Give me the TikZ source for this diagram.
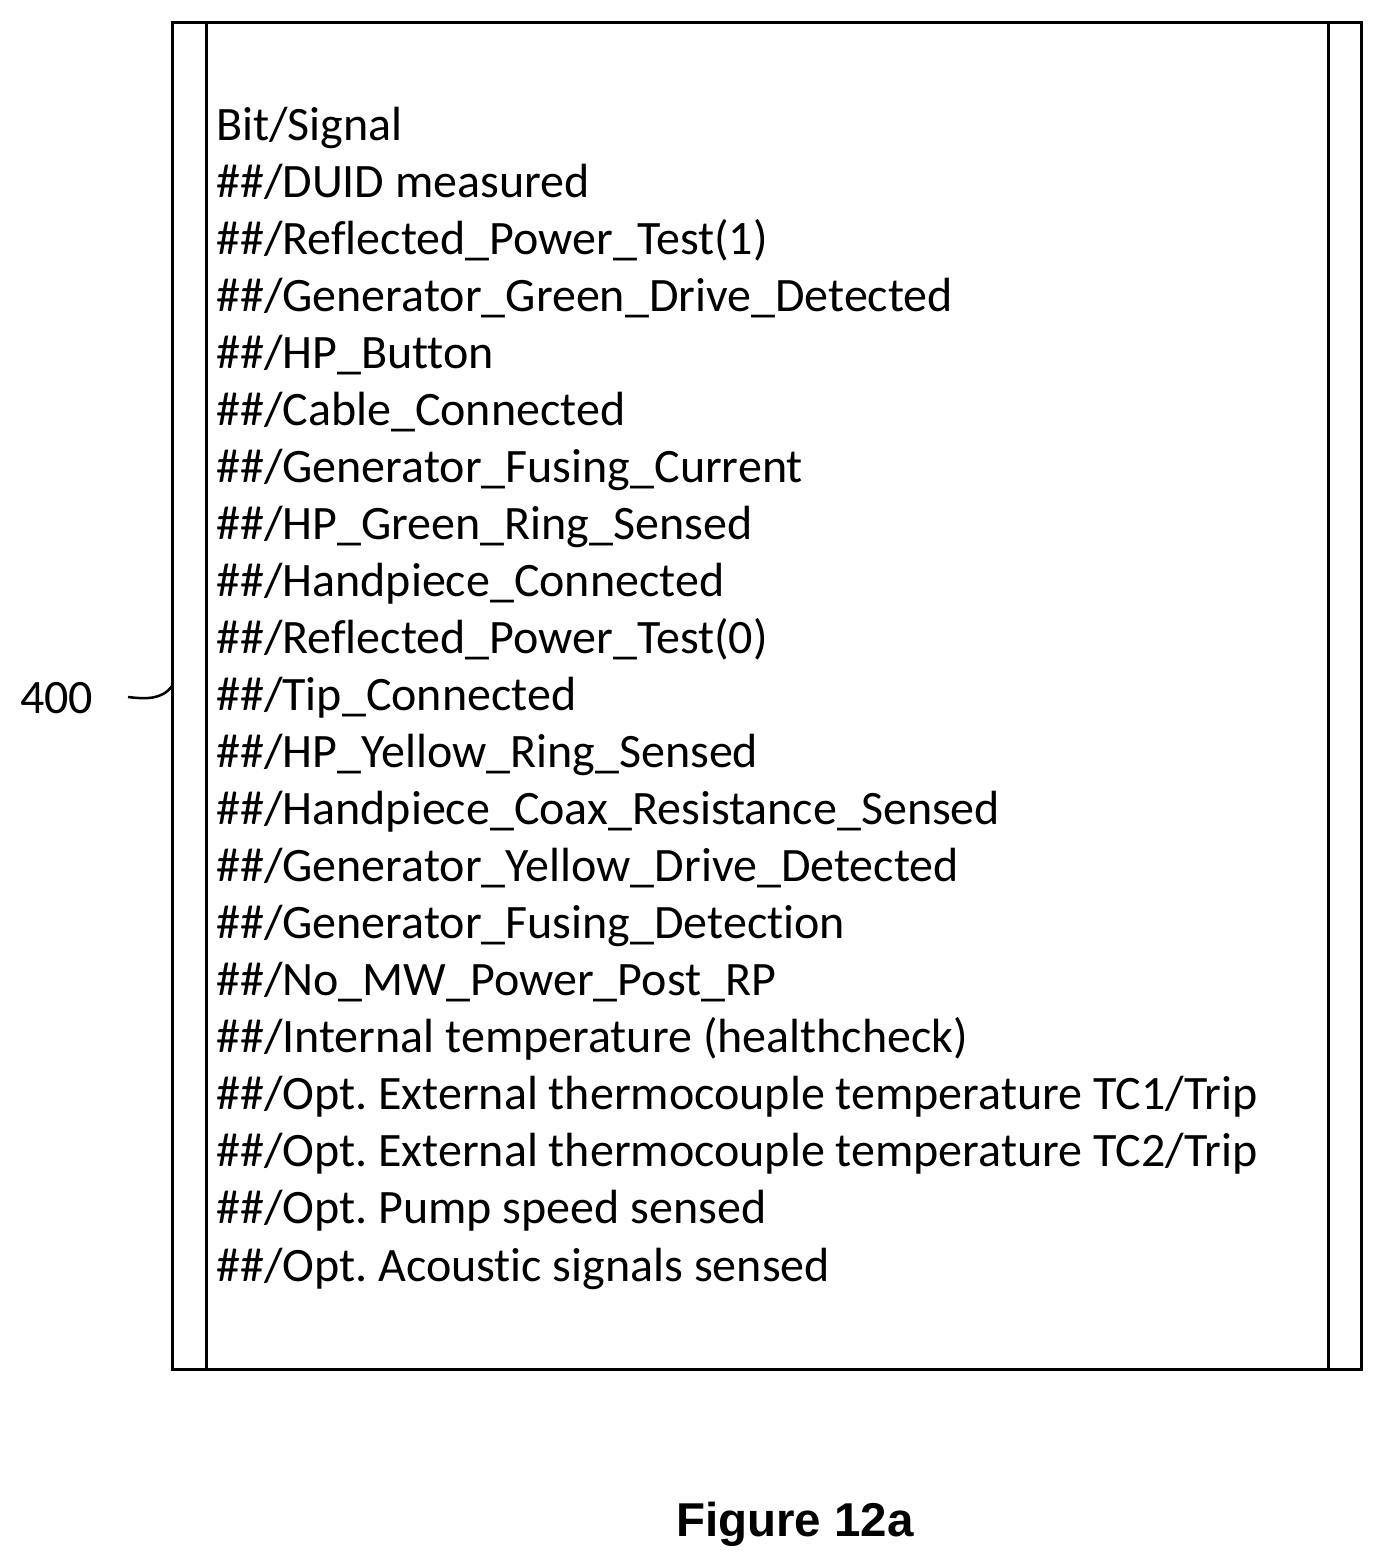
\documentclass[tikz,border=0pt]{standalone}
\usepackage{fontspec}
\setmainfont{Carlito}[Ligatures=NoCommon]
\newfontfamily\capfont{Liberation Sans}
\frenchspacing
\begin{document}
\begin{tikzpicture}[x=1pt,y=-1pt,
  line/.style={inner sep=0pt,anchor=base west,font=\fontsize{48}{48}\selectfont},
  frame/.style={line width=3pt}]
\useasboundingbox (0,0) rectangle (1383,1566);
\draw[frame] (172,22) rectangle (1361,1369);
\draw[frame] (206,22) -- (206,1369);
\draw[frame] (1328,22) -- (1328,1369);
\foreach \t [count=\i from 0] in {Bit/Signal,{\#\#/DUID measured},\#\#/Reflected\_Power\_Test(1),\#\#/Generator\_Green\_Drive\_Detected,\#\#/HP\_Button,\#\#/Cable\_Connected,\#\#/Generator\_Fusing\_Current,\#\#/HP\_Green\_Ring\_Sensed,\#\#/Handpiece\_Connected,\#\#/Reflected\_Power\_Test(0),\#\#/Tip\_Connected,\#\#/HP\_Yellow\_Ring\_Sensed,\#\#/Handpiece\_Coax\_Resistance\_Sensed,\#\#/Generator\_Yellow\_Drive\_Detected,\#\#/Generator\_Fusing\_Detection,\#\#/No\_MW\_Power\_Post\_RP,{\#\#/Internal temperature (healthcheck)},{\#\#/Opt. External thermocouple temperature TC1/Trip},{\#\#/Opt. External thermocouple temperature TC2/Trip},{\#\#/Opt. Pump speed sensed},{\#\#/Opt. Acoustic signals sensed}}
  \node[line] (t\i) at (216,{140+57.05*\i}) {\t};
\node[inner sep=0pt,anchor=base west,font=\fontsize{48}{48}\selectfont] (lbl) at (20,713) {400};
\coordinate (c) at (172,686);
\draw[line width=2.5pt] (128,697) .. controls (145,699) and (162,700) .. (c);
\node[font=\capfont\bfseries\fontsize{47.5}{47.5}\selectfont,inner sep=0pt,anchor=base] (fig) at (795,1536) {Figure 12a};
\end{tikzpicture}
\end{document}
